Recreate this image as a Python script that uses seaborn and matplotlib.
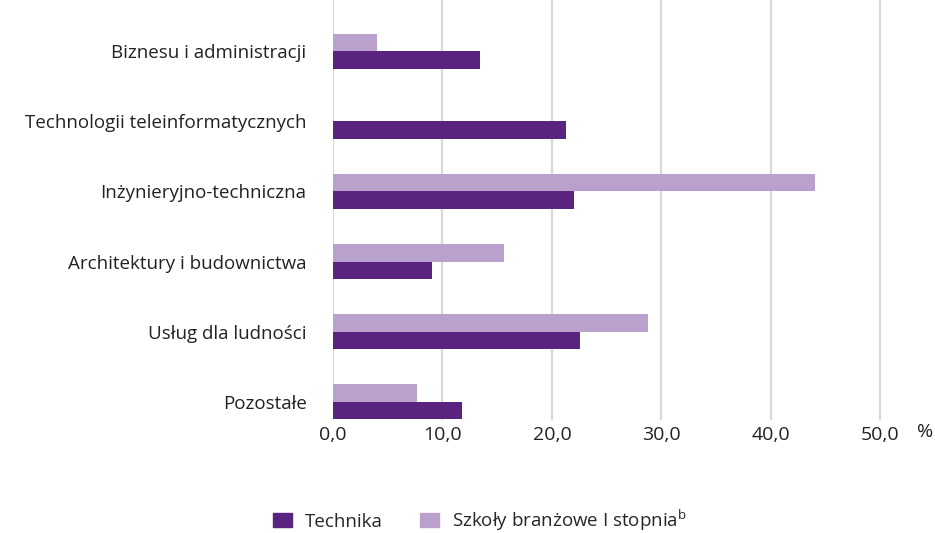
import pandas as pd
import matplotlib
matplotlib.use("Agg")
import matplotlib.pyplot as plt
import seaborn as sns
from matplotlib.ticker import FuncFormatter
from matplotlib.patches import Patch

categories = [
    "Biznesu i administracji",
    "Technologii teleinformatycznych",
    "Inżynieryjno-techniczna",
    "Architektury i budownictwa",
    "Usług dla ludności",
    "Pozostałe",
]
technika = [13.4, 21.3, 22.0, 9.0, 22.6, 11.8]
branzowe = [4.0, 0.0, 44.0, 15.6, 28.8, 7.7]
series_names = ["Szkoły branżowe I stopnia", "Technika"]
x_ticks = [0, 10, 20, 30, 40, 50]

df = pd.DataFrame({
    "kategoria": categories * 2,
    "seria": [series_names[0]] * len(categories) + [series_names[1]] * len(categories),
    "wartosc": branzowe + technika,
})

sns.set_style("white")
plt.rcParams["font.family"] = ["Open Sans", "DejaVu Sans"]
plt.rcParams["mathtext.fontset"] = "custom"
plt.rcParams["mathtext.rm"] = "Open Sans"

dark = "#5b2380"
light = "#b9a0cd"
fs = 13.5

fig = plt.figure(figsize=(9.35, 5.33), dpi=100)
ax = fig.add_axes([333 / 935, 1 - 420 / 533, 1 - 333 / 935, 420 / 533])

sns.barplot(
    data=df, y="kategoria", x="wartosc", hue="seria",
    hue_order=series_names, palette=[light, dark], saturation=1,
    orient="h", width=0.5, ax=ax, legend=False, linewidth=0,
)

ax.set_xlim(0, 55)
ax.set_ylim(5.26, -0.73)
ax.set_xticks(x_ticks)
ax.xaxis.set_major_formatter(FuncFormatter(lambda v, p: f"{v:.1f}".replace(".", ",")))
ax.grid(axis="x", color="#d9d9d9", linewidth=1.6)
ax.set_axisbelow(True)
for s in ax.spines.values():
    s.set_visible(False)
ax.tick_params(axis="both", length=0, labelsize=fs, colors="#222222")
ax.tick_params(axis="x", labelsize=14, pad=4)
ax.tick_params(axis="y", pad=19)
ax.set_xlabel("")
ax.set_ylabel("")

fig.text(925 / 935, 1 - 432 / 533, "%", ha="center", va="center", fontsize=14, color="#222222")

handles = [Patch(color=dark), Patch(color=light)]
labels = ["Technika", r"Szkoły branżowe I stopnia$^{\mathrm{b}}$"]
fig.legend(handles, labels, loc="center", bbox_to_anchor=(480 / 935, 1 - 520 / 533),
           ncol=2, frameon=False, fontsize=fs, handlelength=1.0, handleheight=0.8,
           columnspacing=2.0, handletextpad=0.7, borderpad=0.1)

fig.savefig("out.png", dpi=100)
